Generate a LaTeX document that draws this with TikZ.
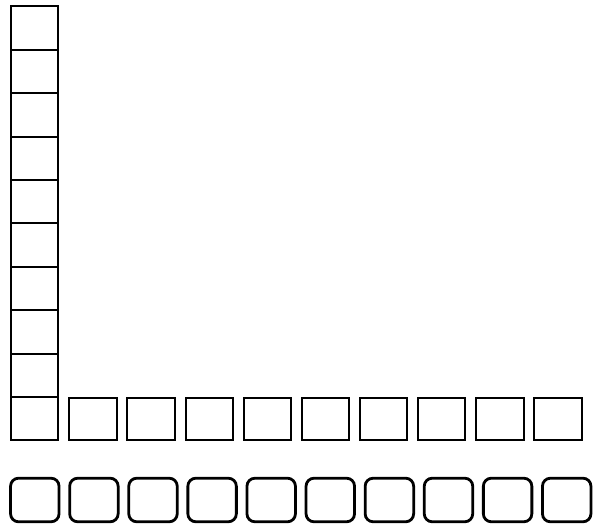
\documentclass[tikz,border=0pt]{standalone}
\usetikzlibrary{positioning}
\tikzstyle{cell}=[draw, line width=2pt, minimum width=47.3pt, minimum height=43.4pt, inner sep=0pt, outer sep=0pt]
\tikzstyle{slot}=[draw, line width=2.8pt, rounded corners=8pt, minimum width=48.5pt, minimum height=43.6pt, inner sep=0pt, outer sep=0pt]

\begin{document}
\begin{tikzpicture}[x=1pt, y=1pt]
  \useasboundingbox (0,0) rectangle (603,525);
  % column
  \node[cell] (c1) at (34.6,106.2) {};
  \foreach \i [remember=\i as \j (initially 1)] in {2,...,10}
    \node[cell] (c\i) [above=0pt of c\j] {};
  % row
  \node[cell, minimum height=42pt] (r1) [right=11pt of c1] {};
  \foreach \i [remember=\i as \j (initially 1)] in {2,...,9}
    \node[cell, minimum height=42pt] (r\i) [right=10.85pt of r\j] {};
  % rounded slots
  \node[slot] (k1) at (34.8,25) {};
  \foreach \i [remember=\i as \j (initially 1)] in {2,...,10}
    \node[slot] (k\i) [right=10.6pt of k\j] {};
\end{tikzpicture}
\end{document}
